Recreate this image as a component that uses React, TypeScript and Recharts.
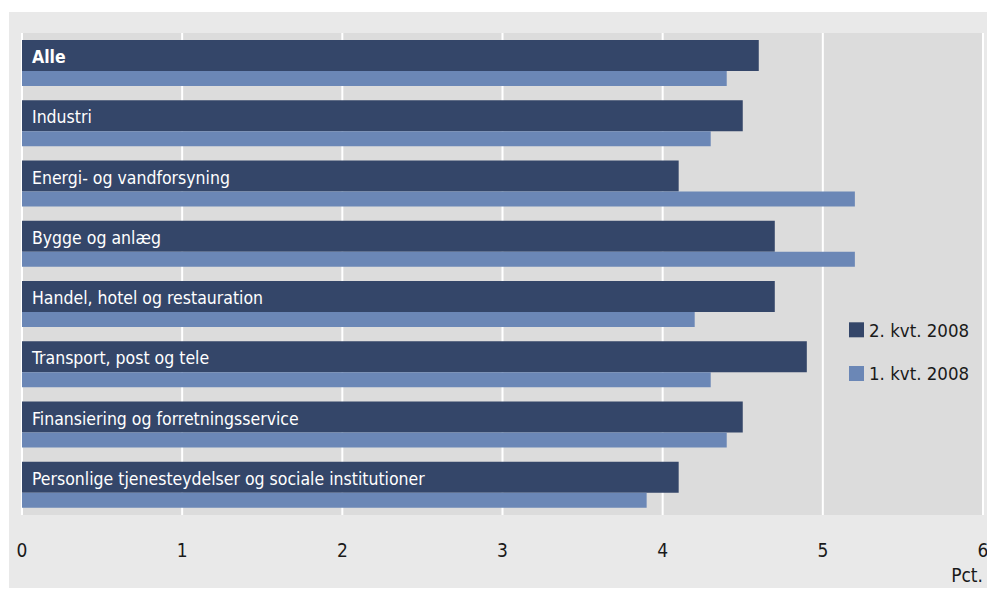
import React from 'react';
import { BarChart, Bar, XAxis, YAxis, CartesianGrid, LabelList, Legend, Label } from 'recharts';

const categories = [
  'Alle',
  'Industri',
  'Energi- og vandforsyning',
  'Bygge og anlæg',
  'Handel, hotel og restauration',
  'Transport, post og tele',
  'Finansiering og forretningsservice',
  'Personlige tjenesteydelser og sociale institutioner',
];
const q2_2008 = [4.6, 4.5, 4.1, 4.7, 4.7, 4.9, 4.5, 4.1];
const q1_2008 = [4.4, 4.3, 5.2, 5.2, 4.2, 4.3, 4.4, 3.9];
const xTicks = [0, 1, 2, 3, 4, 5, 6];
const seriesNames = ['2. kvt. 2008', '1. kvt. 2008'];
const unitLabel = 'Pct.';

const data = categories.map((name, i) => ({ name, q2: q2_2008[i], q1: q1_2008[i] }));

const DARK = '#344669';
const LIGHT = '#6b87b6';
const FONT = '"Liberation Sans Narrow", "DejaVu Sans Condensed", Roboto, sans-serif';

const CatLabel = (props: any) => {
  const { x, y, height, value, index } = props;
  return (
    <text
      x={Number(x) + 10}
      y={Number(y) + Number(height) / 2 + 7.5}
      fill="#ffffff"
      fontSize={17.5}
      fontFamily={FONT}
      fontWeight={index === 0 ? 'bold' : 'normal'}
    >
      {value}
    </text>
  );
};

const XTick = (props: any) => {
  const { x, y, payload } = props;
  return (
    <text x={x} y={Number(y) + 41.5} textAnchor="middle" fill="#1a1a1a" fontSize={19} fontFamily={FONT}>
      {payload.value}
    </text>
  );
};

const LegendContent = (props: any) => {
  const payload = [...(props.payload || [])].sort(
    (a: any, b: any) => seriesNames.indexOf(a.value) - seriesNames.indexOf(b.value)
  );
  return (
    <svg width={138} height={70} style={{ display: 'block' }}>
      {payload.map((p: any, i: number) => (
        <g key={i}>
          <rect x={0} y={4.3 + i * 43.7} width={15} height={15} fill={p.color} />
          <text x={20} y={18.7 + i * 43.7} fontSize={18.5} fontFamily={FONT} fill="#1a1a1a">
            {p.value}
          </text>
        </g>
      ))}
    </svg>
  );
};

export default function App() {
  return (
    <div style={{ position: 'absolute', left: 0, top: 0, width: 987, height: 589, background: '#ffffff' }}>
      <div style={{ position: 'absolute', left: 9, top: 12, width: 978, height: 576, background: '#e9e9e9' }} />
      <div style={{ position: 'absolute', left: 0, top: 0 }}>
        <BarChart
          width={987}
          height={589}
          data={data}
          layout="vertical"
          margin={{ top: 33, right: 4, bottom: 0, left: 22 }}
          barGap={0}
        >
          <CartesianGrid
            horizontal={false}
            vertical={true}
            stroke="#ffffff"
            strokeWidth={2}
            fill="#dcdcdc"
            fillOpacity={1}
          />
          <XAxis
            type="number"
            domain={[0, 6]}
            ticks={xTicks}
            interval={0}
            axisLine={false}
            tickLine={false}
            tickSize={0}
            tickMargin={0}
            height={74}
            tick={<XTick />}
          >
            <Label
              content={(p: any) => {
                const vb = p.viewBox || {};
                return (
                  <text
                    x={vb.x + vb.width}
                    y={vb.y + 66.5}
                    textAnchor="end"
                    fontSize={19}
                    fontFamily={FONT}
                    fill="#1a1a1a"
                  >
                    {unitLabel}
                  </text>
                );
              }}
            />
          </XAxis>
          <YAxis type="category" dataKey="name" hide />
          <Legend
            layout="vertical"
            align="center"
            verticalAlign="middle"
            content={<LegendContent />}
            wrapperStyle={{ position: 'absolute', left: 849, top: 318, width: 138, height: 70 }}
          />
          <Bar dataKey="q2" name={seriesNames[0]} fill={DARK} barSize={31} isAnimationActive={false}>
            <LabelList dataKey="name" content={<CatLabel />} />
          </Bar>
          <Bar dataKey="q1" name={seriesNames[1]} fill={LIGHT} barSize={15} isAnimationActive={false} />
        </BarChart>
      </div>
    </div>
  );
}
